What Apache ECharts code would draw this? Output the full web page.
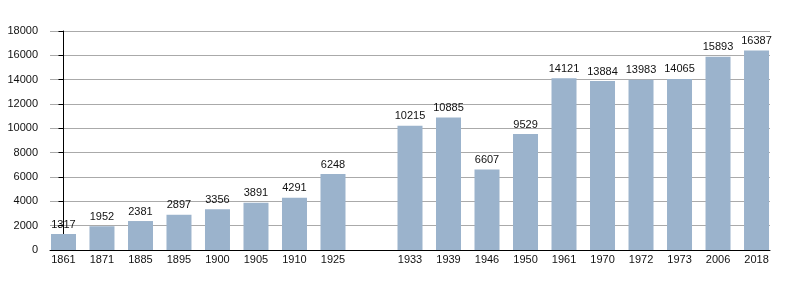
<!DOCTYPE html>
<html><head><meta charset="utf-8">
<script src="https://cdn.jsdelivr.net/npm/echarts@6/dist/echarts.min.js"></script>
<style>html,body{margin:0;padding:0;background:#fff}#c{width:800px;height:300px}</style>
</head><body><div id="c"></div>
<script>
const years = ['1861','1871','1885','1895','1900','1905','1910','1925','','1933','1939','1946','1950','1961','1970','1972','1973','2006','2018'];
const population = [1317,1952,2381,2897,3356,3891,4291,6248,null,10215,10885,6607,9529,14121,13884,13983,14065,15893,16387];
const yTicks = [0,2000,4000,6000,8000,10000,12000,14000,16000,18000];

const idx = years.map((y,i)=>i).filter(i=>years[i]!=='');
const chart = echarts.init(document.getElementById('c'));
chart.setOption({
  animation:false,
  grid:{left:50,right:30,top:31,bottom:50,containLabel:false},
  xAxis:{type:'value',min:-0.35,max:years.length-1+0.35,
    axisLine:{show:true,lineStyle:{color:'#000',width:1}},
    axisTick:{show:false},splitLine:{show:false},
    axisLabel:{customValues:idx,formatter:v=>years[Math.round(v)],color:'#111',fontSize:11,fontFamily:'Liberation Sans, Arial, sans-serif',margin:4}},
  yAxis:{type:'value',min:0,max:18000,interval:2000,
    axisLine:{show:true,lineStyle:{color:'#000',width:1}},
    axisTick:{show:true,length:5,lineStyle:{color:'#000'}},
    splitLine:{show:true,lineStyle:{color:'#aaa',width:1}},
    axisLabel:{color:'#111',fontSize:11,fontFamily:'Liberation Sans, Arial, sans-serif',margin:12,formatter:v=>String(v)}},
  series:[{type:'bar',barWidth:25,
    data:population.map((v,i)=>v==null?null:[i,v]).filter(d=>d),
    itemStyle:{color:'#9bb3cc'},
    label:{show:true,position:'top',distance:4,color:'#111',fontSize:11,fontFamily:'Liberation Sans, Arial, sans-serif'}}]
});
</script></body></html>
